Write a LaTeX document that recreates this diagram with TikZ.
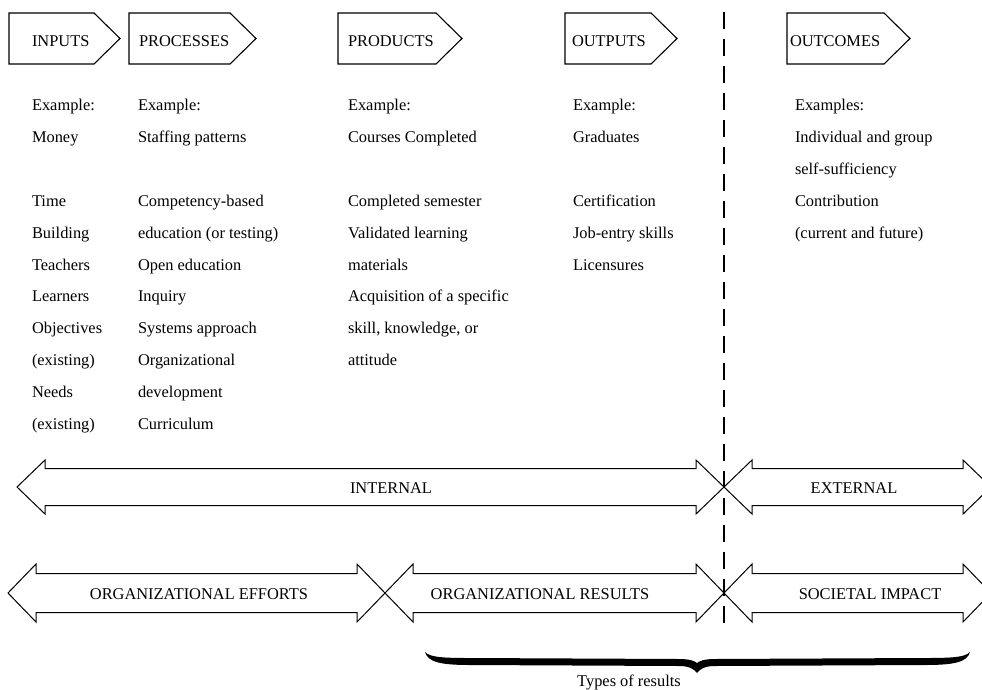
\documentclass[tikz,border=0pt]{standalone}
\usepackage{fontspec}
\setmainfont{Liberation Serif}

% double-headed band arrow: left tip x, right tip x, centre y, head half-height, shaft half-height
\newcommand\bandarrow[5]{%
  \draw[band] (#1,#3) -- ++(28,-#4) -- ++(0,#4-#5) -- (#2-28,#3-#5) -- ++(0,#5-#4)
    -- (#2,#3) -- ++(-28,#4) -- ++(0,#5-#4) -- (#1+28,#3+#5) -- ++(0,#4-#5) -- cycle;}

% header tag: left x, body end x, tip x
\newcommand\tagbox[3]{%
  \draw[box] (#1,13) -- (#2,13) -- (#3,38.5) -- (#2,64) -- (#1,64) -- cycle;}

\begin{document}
\begin{tikzpicture}[x=1pt,y=-1pt,
  txt/.style={font=\fontsize{16.4}{31.9}\selectfont, inner sep=0pt, outer sep=0pt},
  col/.style={txt, align=left, anchor=base west},
  hdr/.style={txt, anchor=base west},
  lbl/.style={txt, anchor=base},
  box/.style={draw, line width=1.1pt, line join=miter},
  band/.style={draw, line width=1pt, line join=miter},
  divider/.style={line width=1.8pt, dash pattern=on 17pt off 10pt}
]
\useasboundingbox (0,0) rectangle (982,689);
\clip (0,0) rectangle (982,689);

% stage tags across the top
\tagbox{9}{94}{120}
\tagbox{129}{230}{256}
\tagbox{338}{436}{462}
\tagbox{565}{651}{677}
\tagbox{787}{884}{910}
\node[hdr] (inputs)    at (32,46)  {INPUTS};
\node[hdr] (processes) at (139,46) {PROCESSES};
\node[hdr] (products)  at (348,46) {PRODUCTS};
\node[hdr] (outputs)   at (572,46) {OUTPUTS};
\node[hdr] (outcomes)  at (790,46) {OUTCOMES};

% example columns (each placed by the baseline of its last line)
\node[col] (ex1) at (32,429.5) {Example:\\Money\\[31.9pt]Time\\Building\\Teachers\\Learners\\Objectives\\(existing)\\Needs\\(existing)};
\node[col] (ex2) at (138,429.5) {Example:\\Staffing patterns\\[31.9pt]Competency-based\\education (or testing)\\Open education\\Inquiry\\Systems approach\\Organizational\\development\\Curriculum};
\node[col] (ex3) at (348,365.7) {Example:\\Courses Completed\\[31.9pt]Completed semester\\Validated learning\\materials\\Acquisition of a specific\\skill, knowledge, or\\attitude};
\node[col] (ex4) at (573,270) {Example:\\Graduates\\[31.9pt]Certification\\Job-entry skills\\Licensures};
\node[col] (ex5) at (795,238.1) {Examples:\\Individual and group\\self-sufficiency\\Contribution\\(current and future)};

% internal / external divider
\coordinate (divtop) at (724,12);
\coordinate (divbot) at (724,630);
\draw[divider] (divtop) -- (divbot);

% scope bands
\bandarrow{17}{724}{487}{27}{18.5}
\bandarrow{724}{991}{487}{27}{18.5}
\node[lbl] (internal) at (391,493) {INTERNAL};
\node[lbl] (external) at (854,493) {EXTERNAL};

\bandarrow{8}{385}{593}{29}{19.5}
\bandarrow{385}{724}{593}{29}{19.5}
\bandarrow{724}{991}{593}{29}{19.5}
\node[lbl] (efforts) at (199,599) {ORGANIZATIONAL EFFORTS};
\node[lbl] (results) at (540,599) {ORGANIZATIONAL RESULTS};
\node[lbl] (impact)  at (870,599) {SOCIETAL IMPACT};

% heavy brace under the result types
\fill (425,652) .. controls (428,662) and (440,665) .. (470,665) -- (680,666)
  .. controls (690,666) and (695,670) .. (697,673)
  .. controls (699,670) and (704,666) .. (714,666) -- (925,665)
  .. controls (955,665) and (967,662) .. (970,652)
  .. controls (965,657) and (955,658) .. (925,658) -- (714,659)
  .. controls (705,659) and (699,661) .. (697,663)
  .. controls (695,661) and (689,659) .. (680,659) -- (470,658)
  .. controls (440,658) and (430,657) .. (425,652) -- cycle;
\node[lbl] (types) at (629,686) {Types of results};
\end{tikzpicture}
\end{document}
